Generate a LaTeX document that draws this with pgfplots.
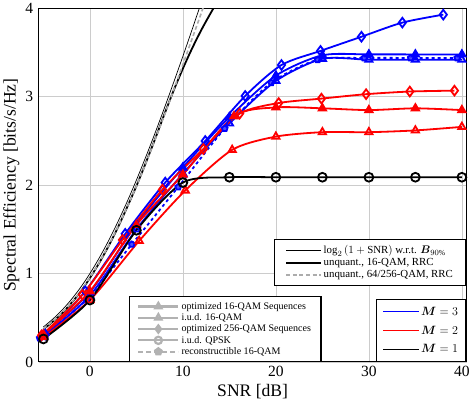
\documentclass[border=0pt]{standalone}
\usepackage{fontspec}
\setmainfont{Liberation Serif}
\usepackage{amsmath}
\usepackage{pgfplots}
\pgfplotsset{compat=1.18}
\usetikzlibrary{plotmarks}

\pgfplotsset{
  base/.style={
    width=426pt, height=352pt, scale only axis,
    xmin=-5.5, xmax=40.5, ymin=0, ymax=4,
  },
  cs/.style={line width=1.8pt, smooth, tension=0.45},
}

\begin{document}
\begin{tikzpicture}
\begin{axis}[base,
  xtick={0,10,20,30,40}, ytick={0,1,2,3,4},
  grid=major, grid style={gray!40, line width=0.7pt},
  axis line style={line width=1.1pt},
  tick style={draw=none},
  tick label style={font=\fontsize{15.5}{17}\selectfont},
  yticklabel style={xshift=-2pt},
  xticklabel style={yshift=-1pt},
  /pgf/number format/assume math mode=true,
  label style={font=\fontsize{17.5}{19}\selectfont},
  xlabel={SNR [dB]}, ylabel={Spectral Efficiency [bits/s/Hz]},
  ylabel style={yshift=-1pt},
]
% unquant 16-QAM RRC
\addplot[black, line width=1.8pt, smooth] coordinates {
(-5,0.37) (-4,0.455) (-3,0.55) (-2,0.665) (-1,0.795) (0,0.95) (1,1.12) (2,1.31)
(3,1.52) (4,1.75) (5,1.99) (6,2.25) (7,2.52) (8,2.80) (9,3.07) (10,3.32)
(11,3.55) (12,3.76) (13,3.95) (13.5,4.04)};
% log2(1+SNR) w.r.t. B90
\addplot[black, line width=0.7pt, smooth] coordinates {
(-5,0.396) (-4,0.484) (-3,0.586) (-2,0.706) (-1,0.843) (0,1.000) (1,1.176) (2,1.370)
(3,1.583) (4,1.812) (5,2.057) (6,2.317) (7,2.588) (8,2.870) (9,3.161) (10,3.459)
(11,3.764) (12,4.075)};
% unquant 64/256-QAM RRC
\addplot[gray!65, line width=1.6pt, dash pattern=on 4pt off 2.5pt, smooth] coordinates {
(-5,0.375) (-4,0.46) (-3,0.555) (-2,0.67) (-1,0.80) (0,0.955) (1,1.125) (2,1.315)
(3,1.525) (4,1.75) (5,1.99) (6,2.245) (7,2.515) (8,2.79) (9,3.075) (10,3.365)
(11,3.66) (12,3.955) (12.3,4.05)};

% ---- M = 3 (blue)
\addplot[blue, cs, dashed, mark=pentagon*, mark size=3pt, mark options={solid, fill=blue!70}] coordinates {
(-5.4,0.27) (-0.4,0.70) (4.5,1.33) (9.5,1.98) (14.5,2.64) (19.5,3.16) (24.5,3.42)
(29.5,3.44) (34.5,3.44) (39.5,3.44)};
\addplot[blue, cs, mark=triangle, mark size=4.2pt, mark options={solid, fill=white}] coordinates {
(-5,0.29) (0,0.75) (5,1.50) (10,2.13) (15,2.70) (20,3.18) (25,3.43) (30,3.42) (35,3.42) (40,3.42)};
\addplot[blue, cs, mark=triangle*, mark size=4.2pt, mark options={solid, fill=blue}] coordinates {
(-5,0.31) (0,0.79) (5,1.56) (10,2.20) (15,2.77) (20,3.24) (25,3.47) (30,3.48) (35,3.48) (40,3.48)};
\addplot[blue, cs, mark=diamond, mark size=4.8pt, mark options={solid, fill=white}] coordinates {
(-4.8,0.31) (-0.5,0.80) (3.8,1.45) (8.1,2.03) (12.4,2.50) (16.7,3.01) (20.6,3.36)
(24.8,3.52) (29.2,3.68) (33.6,3.84) (38,3.93)};

% ---- M = 2 (red)
\addplot[red, cs, mark=triangle, mark size=4.2pt, mark options={solid, fill=white}] coordinates {
(-5,0.28) (0,0.70) (5.3,1.37) (10.25,1.94) (15.3,2.40) (20,2.55) (25,2.60) (30,2.60) (35,2.62) (40,2.66)};
\addplot[red, cs, mark=triangle*, mark size=4.2pt, mark options={solid, fill=red}] coordinates {
(-5,0.31) (0,0.80) (5,1.55) (10,2.12) (15.5,2.78) (20,2.88) (25,2.87) (30,2.85) (35,2.87) (40,2.85)};
\addplot[red, cs, mark=diamond, mark size=4.8pt, mark options={solid, fill=white}] coordinates {
(-5.2,0.30) (-0.8,0.76) (3.5,1.38) (7.8,1.95) (12.2,2.41) (16.1,2.81) (20.3,2.93)
(24.9,2.98) (29.7,3.03) (34.4,3.06) (39.2,3.07)};

% ---- M = 1 (black) i.u.d. QPSK
\addplot[black, cs, mark=o, mark size=4.4pt, mark options={solid, fill=white, line width=1.8pt}] coordinates {
(-5,0.26) (0,0.70) (5,1.49) (10,2.03) (15,2.09) (20,2.09) (25,2.09) (30,2.09) (35,2.09) (40,2.09)};
\end{axis}

% legend 1
\begin{axis}[base, hide axis,
  legend cell align=left,
  legend image code/.code={\draw plot coordinates {(0pt,0pt) (34pt,0pt)};},
  legend style={at={(1,0.349)}, anchor=north east, draw=black, line width=1.1pt,
    font=\fontsize{10.8}{12}\selectfont, row sep=-0.5pt, inner xsep=11pt, inner ysep=4pt},
]
\addlegendimage{black, line width=0.8pt}
\addlegendentry{$\log_2{(1+\mathrm{SNR})}$ w.r.t. $\boldsymbol{B}_{90\%}$}
\addlegendimage{black, line width=2.2pt}
\addlegendentry{unquant., 16-QAM, RRC}
\addlegendimage{gray!65, line width=2pt, dash pattern=on 4pt off 2.5pt}
\addlegendentry{unquant., 64/256-QAM, RRC}
\end{axis}

% legend 2
\begin{axis}[base, hide axis,
  legend cell align=left,
  legend image code/.code={\draw[mark repeat=2, mark phase=2] plot coordinates {(0pt,0pt) (20pt,0pt) (40pt,0pt)};},
  legend style={at={(0.21,0)}, anchor=south west, draw=black, line width=1.1pt,
    font=\fontsize{10}{11}\selectfont, row sep=-1.2pt, inner xsep=8pt, inner ysep=3.5pt},
]
\addlegendimage{gray!60, line width=2.2pt, mark=triangle*, mark size=3.6pt, mark options={fill=gray!60}}
\addlegendentry{optimized 16-QAM Sequences}
\addlegendimage{gray!60, line width=2.2pt, mark=triangle, mark size=3.6pt, mark options={fill=white}}
\addlegendentry{i.u.d. 16-QAM}
\addlegendimage{gray!60, line width=2.2pt, mark=diamond*, mark size=3.6pt, mark options={fill=gray!60}}
\addlegendentry{optimized 256-QAM Sequences}
\addlegendimage{gray!60, line width=2.2pt, mark=o, mark size=3.6pt, mark options={fill=white}}
\addlegendentry{i.u.d. QPSK}
\addlegendimage{gray!60, line width=2.2pt, dash pattern=on 5pt off 3pt, mark=pentagon*, mark size=3.3pt, mark options={solid, fill=gray!60}}
\addlegendentry{reconstructible 16-QAM}
\end{axis}

% legend 3
\begin{axis}[base, hide axis,
  legend cell align=left,
  legend image code/.code={\draw plot coordinates {(0pt,0pt) (35pt,0pt)};},
  legend style={at={(1,0)}, anchor=south east, draw=black, line width=1.1pt,
    font=\fontsize{11.5}{13}\selectfont, row sep=5pt, inner xsep=6pt, inner ysep=5pt},
]
\addlegendimage{blue, line width=1pt}
\addlegendentry{$\boldsymbol{M} = 3$}
\addlegendimage{red, line width=1pt}
\addlegendentry{$\boldsymbol{M} = 2$}
\addlegendimage{black, line width=1pt}
\addlegendentry{$\boldsymbol{M} = 1$}
\end{axis}
\end{tikzpicture}
\end{document}
